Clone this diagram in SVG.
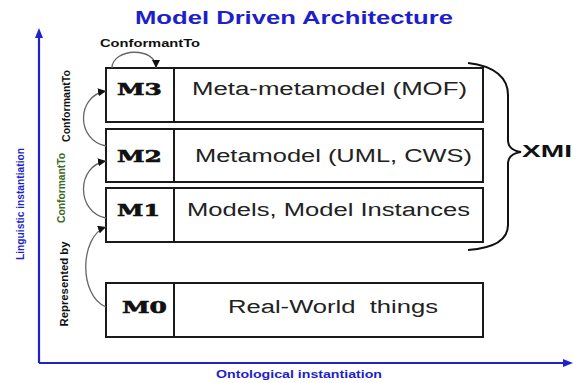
<svg xmlns="http://www.w3.org/2000/svg" width="573" height="383" viewBox="0 0 573 383">
<style>
.box{fill:#fff;stroke:#1a1a1a;stroke-width:2}
.div{stroke:#1a1a1a;stroke-width:2}
.lvl{font-family:"DejaVu Serif","Liberation Serif",serif;font-weight:bold;font-size:17px;fill:#111;stroke:#111;stroke-width:0.6}
.txt{font-family:"Liberation Sans",Arial,sans-serif;font-size:18px;fill:#222}
.lab{font-family:"Liberation Sans",Arial,sans-serif;font-weight:bold;font-size:11px;fill:#111}
.blue{fill:#1e1ecc}
.arc{fill:none;stroke:#666;stroke-width:1.3}
.axis{stroke:#2222cc;stroke-width:2.2;fill:none}
</style>
<defs>
<marker id="ah" markerUnits="userSpaceOnUse" markerWidth="9" markerHeight="8" refX="8" refY="4" orient="auto">
<path d="M0,0 L8,4 L0,8 z" fill="#111"/>
</marker>
</defs>
<text x="135" y="24" class="lab blue" style="font-size:17.5px" textLength="318" lengthAdjust="spacingAndGlyphs">Model Driven Architecture</text>
<g id="axes">
<line class="axis" x1="39" y1="363" x2="39" y2="36"/>
<polygon points="39,28 35,38 43,38" fill="#2222cc"/>
<line class="axis" x1="39" y1="363" x2="565" y2="363"/>
<polygon points="573,363 563,359 563,367" fill="#2222cc"/>
<text class="lab blue" transform="translate(24,204) rotate(-90)" text-anchor="middle" style="font-size:11px" textLength="112" lengthAdjust="spacingAndGlyphs">Linguistic instantiation</text>
<text x="216" y="378" class="lab blue" textLength="166" lengthAdjust="spacingAndGlyphs">Ontological instantiation</text>
</g>
<g id="M3">
<rect class="box" x="106" y="68" width="377" height="54"/>
<line class="div" x1="174" y1="68" x2="174" y2="122"/>
<text x="117" y="95" class="lvl" textLength="45" lengthAdjust="spacingAndGlyphs">M3</text>
<text x="192" y="95" class="txt" textLength="275" lengthAdjust="spacingAndGlyphs">Meta-metamodel (MOF)</text>
</g>
<g id="M2">
<rect class="box" x="106" y="129" width="377" height="53"/>
<line class="div" x1="174" y1="129" x2="174" y2="182"/>
<text x="117" y="162" class="lvl" textLength="45" lengthAdjust="spacingAndGlyphs">M2</text>
<text x="195" y="162" class="txt" textLength="277" lengthAdjust="spacingAndGlyphs">Metamodel (UML, CWS)</text>
</g>
<g id="M1">
<rect class="box" x="106" y="188" width="377" height="54"/>
<line class="div" x1="174" y1="188" x2="174" y2="242"/>
<text x="117" y="216" class="lvl" textLength="43" lengthAdjust="spacingAndGlyphs">M1</text>
<text x="187" y="216" class="txt" textLength="283" lengthAdjust="spacingAndGlyphs">Models, Model Instances</text>
</g>
<g id="M0">
<rect class="box" x="106" y="283" width="377" height="54"/>
<line class="div" x1="174" y1="283" x2="174" y2="337"/>
<text x="122" y="313" class="lvl" textLength="45" lengthAdjust="spacingAndGlyphs">M0</text>
<text x="228" y="313" class="txt" xml:space="preserve" textLength="210" lengthAdjust="spacingAndGlyphs">Real-World  things</text>
</g>
<g id="XMI">
<path d="M468,63 C495,66 508,78 508,95 L508,140 C508,148 514,151 521,152 C514,153 508,156 508,164 L508,225 C508,240 495,248 468,250" fill="none" stroke="#111" stroke-width="2"/>
<text x="522" y="157" class="lab" style="font-size:17px" textLength="50" lengthAdjust="spacingAndGlyphs">XMI</text>
</g>
<g id="connectors">
<path class="arc" d="M112,68 C112,48 156,46 156,68" marker-end="url(#ah)"/>
<path class="arc" d="M106,146 C76,140 76,96 106,91" marker-end="url(#ah)"/>
<path class="arc" d="M106,218 C76,212 76,166 106,161" marker-end="url(#ah)"/>
<path class="arc" d="M106,307 C78,295 80,236 106,227" marker-end="url(#ah)"/>
<text x="100" y="47" class="lab" textLength="100" lengthAdjust="spacingAndGlyphs">ConformantTo</text>
<text class="lab" transform="translate(70,106) rotate(-90)" text-anchor="middle" textLength="72" lengthAdjust="spacingAndGlyphs">ConformantTo</text>
<text class="lab" transform="translate(65,188) rotate(-90)" text-anchor="middle" style="fill:#3d6b2a" textLength="70" lengthAdjust="spacingAndGlyphs">ConformantTo</text>
<text class="lab" transform="translate(68,284) rotate(-90)" text-anchor="middle" textLength="85" lengthAdjust="spacingAndGlyphs">Represented by</text>
</g>
</svg>
